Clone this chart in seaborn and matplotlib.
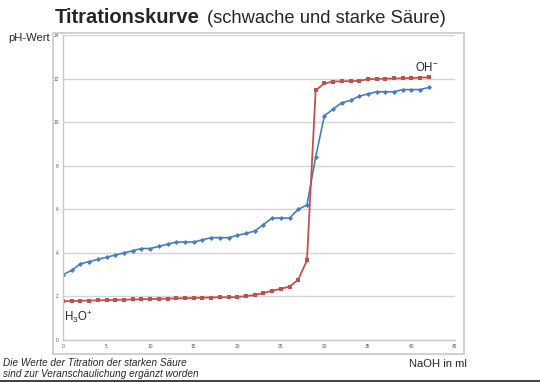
import numpy as np
import pandas as pd
import seaborn as sns
import matplotlib.pyplot as plt
from matplotlib.patches import Rectangle
from matplotlib.lines import Line2D

# -------------------------- Data --------------------------
naoh_ml = list(range(0, 43))
ph_weak = [3.0, 3.2, 3.5, 3.6, 3.7, 3.8, 3.9, 4.0, 4.1, 4.2, 4.2, 4.3, 4.4, 4.5, 4.5,
           4.5, 4.6, 4.7, 4.7, 4.7, 4.8, 4.9, 5.0, 5.3, 5.6, 5.6, 5.6, 6.0, 6.2, 8.4,
           10.3, 10.6, 10.9, 11.0, 11.2, 11.3, 11.4, 11.4, 11.4, 11.5, 11.5, 11.5, 11.6]
ph_strong = [1.78, 1.79, 1.80, 1.81, 1.82, 1.83, 1.84, 1.85, 1.86, 1.87, 1.88, 1.89,
             1.90, 1.91, 1.92, 1.93, 1.94, 1.95, 1.96, 1.96, 1.97, 2.02, 2.06, 2.16,
             2.26, 2.35, 2.45, 2.77, 3.66, 11.47, 11.78, 11.87, 11.88, 11.89, 11.90,
             11.98, 11.99, 12.0, 12.01, 12.02, 12.03, 12.05, 12.06]
x_ticks = [0, 5, 10, 15, 20, 25, 30, 35, 40, 45]
y_ticks = [0, 2, 4, 6, 8, 10, 12, 14]

df = pd.DataFrame({"ml": naoh_ml, "weak": ph_weak, "strong": ph_strong})

# -------------------------- Style --------------------------
sns.set_theme(style="white")
plt.rcParams["font.family"] = ["Liberation Sans", "DejaVu Sans"]
plt.rcParams["mathtext.fontset"] = "custom"
plt.rcParams["mathtext.rm"] = "Liberation Sans"

fig = plt.figure(figsize=(5.4, 3.82), dpi=100)
ax = fig.add_axes([0.1167, 0.110, 0.726, 0.798])

# outer chart frame (Excel chart area)
fig.patches.append(Rectangle((0.098, 0.073), 0.762, 0.841, transform=fig.transFigure,
                             fill=False, edgecolor="#c8c8c8", linewidth=1.2))

sns.lineplot(data=df, x="ml", y="weak", ax=ax, color="#4a7ebb", marker="D",
             markersize=2.6, markeredgewidth=0, linewidth=1.2)
sns.lineplot(data=df, x="ml", y="strong", ax=ax, color="#c0504d", marker="s",
             markersize=3.4, markeredgewidth=0, linewidth=1.3)

ax.set_xlim(0, 45)
ax.set_ylim(0, 14)
ax.set_xticks(x_ticks)
ax.set_yticks(y_ticks)
ax.tick_params(axis="both", labelsize=3.5, colors="#555555", length=0, pad=3)
ax.yaxis.grid(True, color="#d4d4d4", linewidth=1)
ax.set_axisbelow(True)
for s in ["top", "right"]:
    ax.spines[s].set_visible(False)
for s in ["left", "bottom"]:
    ax.spines[s].set_color("#c8c8c8")
    ax.spines[s].set_linewidth(1)
ax.set_xlabel("")
ax.set_ylabel("")

# -------------------------- Texts --------------------------
fig.text(0.102, 0.940, "Titrationskurve", fontsize=14.5, fontweight="bold", va="baseline")
fig.text(0.383, 0.940, "(schwache und starke Säure)", fontsize=13.2, va="baseline")
fig.text(0.015, 0.900, "pH-Wert", fontsize=8.1, va="center")
fig.text(0.757, 0.047, "NaOH in ml", fontsize=8.1, va="center")
fig.text(0.769, 0.823, r"$\mathrm{OH^{-}}$", fontsize=8.3, va="center")
fig.text(0.119, 0.170, r"$\mathrm{H_{3}O^{+}}$", fontsize=8.3, va="center")
fig.text(0.006, 0.050, "Die Werte der Titration der starken Säure", fontsize=7.2,
         style="italic", va="center")
fig.text(0.006, 0.022, "sind zur Veranschaulichung ergänzt worden", fontsize=7.2,
         style="italic", va="center")

fig.lines.append(Line2D([0, 1], [0.002, 0.002], transform=fig.transFigure,
                        color="#444444", linewidth=1.5))

fig.savefig("out.png", dpi=100)
